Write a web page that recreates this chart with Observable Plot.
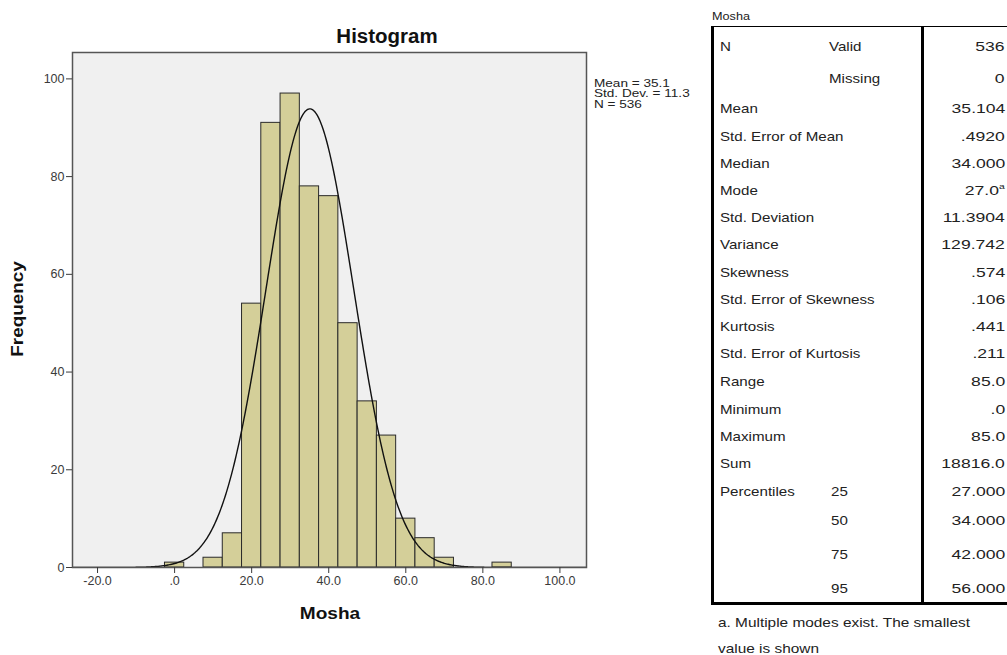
<!DOCTYPE html>
<html>
<head>
<meta charset="utf-8">
<script src="https://cdn.jsdelivr.net/npm/d3@7"></script>
<script src="https://cdn.jsdelivr.net/npm/@observablehq/plot@0.6"></script>
<style>
  html, body { margin:0; padding:0; background:#fff; }
  body { width:1007px; height:655px; overflow:hidden; position:relative; font-family:"Liberation Sans", Arial, sans-serif; }
  #chart { position:absolute; left:0; top:0; }
  .abs { position:absolute; white-space:nowrap; color:#111; }
  #title { left:387px; top:36px; transform:translate(-50%,-50%) scaleX(1.05); font-weight:bold; font-size:19.5px; }
  #xlab { left:330px; top:614px; transform:translate(-50%,-50%) scaleX(1.12); font-weight:bold; font-size:17px; }
  #ylab { left:18px; top:309px; transform:translate(-50%,-50%) rotate(-90deg) scaleX(1.18); font-weight:bold; font-size:16px; }
  #legend { left:594px; top:78px; font-size:11.5px; line-height:10.3px; color:#222; transform:scaleX(1.18); transform-origin:left top; }
  #table { position:absolute; left:711px; top:26px; width:320px; height:575px; border-left:3px solid #000; border-bottom:3px solid #000; border-top:1px solid #000; }
  #divider { position:absolute; left:921px; top:26px; width:3px; height:578px; background:#000; }
  .cell { position:absolute; font-size:13.5px; color:#222; white-space:nowrap; transform:translateY(-50%) scaleX(1.12); transform-origin:left center; }
  .val { right:2px; text-align:right; transform:translateY(-50%) scaleX(1.3); transform-origin:right center; }
  #tabtitle { left:712px; top:16px; font-size:11.5px; transform:translateY(-50%) scaleX(1.1); transform-origin:left center; color:#222; }
  .foot { left:718px; font-size:13.5px; color:#222; transform:translateY(-50%) scaleX(1.14); transform-origin:left center; }
</style>
</head>
<body>
<div id="chart"></div>
<div id="title" class="abs">Histogram</div>
<div id="xlab" class="abs">Mosha</div>
<div id="ylab" class="abs">Frequency</div>
<div id="legend" class="abs"></div>
<div id="tabtitle" class="abs">Mosha</div>
<div id="table"></div>
<div id="divider"></div>
<div id="cells"></div>
<div class="abs foot" style="top:622px">a. Multiple modes exist. The smallest</div>
<div class="abs foot" style="top:648px">value is shown</div>
<script>
// ---- Histogram data ----
const binWidth = 5;
const binCenters = [0, 5, 10, 15, 20, 25, 30, 35, 40, 45, 50, 55, 60, 65, 70, 75, 80, 85];
const counts     = [1, 0, 2, 7, 54, 91, 97, 78, 76, 50, 34, 27, 10, 6, 2, 0, 0, 1];
const xTicks = [-20, 0, 20, 40, 60, 80, 100];
const yTicks = [0, 20, 40, 60, 80, 100];
const meanValue = 35.104;
const sdValue = 11.3904;
const nValue = 536;
const legendLines = ["Mean = 35.1", "Std. Dev. = 11.3", "N = 536"];

// ---- Statistics table ----
const rowLabels = ["N", "", "Mean", "Std. Error of Mean", "Median", "Mode", "Std. Deviation", "Variance",
  "Skewness", "Std. Error of Skewness", "Kurtosis", "Std. Error of Kurtosis", "Range", "Minimum",
  "Maximum", "Sum", "Percentiles", "", "", ""];
const rowSubLabels = ["Valid", "Missing", "", "", "", "", "", "", "", "", "", "", "", "", "", "", "25", "50", "75", "95"];
const rowValues = ["536", "0", "35.104", ".4920", "34.000", "27.0<sup style='font-size:8px'>a</sup>", "11.3904", "129.742",
  ".574", ".106", ".441", ".211", "85.0", ".0", "85.0", "18816.0", "27.000", "34.000", "42.000", "56.000"];

// layout (not data)
const rowY = [46, 78, 108, 136, 163, 190, 217, 244, 272, 299, 326, 353, 381, 409, 436, 463, 491, 520, 554, 588];

const bars = binCenters
  .map((c, i) => ({x1: c - binWidth / 2, x2: c + binWidth / 2, count: counts[i]}))
  .filter(d => d.count > 0);

const xDomain = [-26.5, 106.9];
const normal = d3.range(xDomain[0], xDomain[1] + 0.01, 0.25).map(x => ({
  x,
  y: nValue * binWidth * Math.exp(-0.5 * ((x - meanValue) / sdValue) ** 2) / (sdValue * Math.sqrt(2 * Math.PI))
}));

const fmtX = d => d === 0 ? ".0" : d.toFixed(1);

const chart = Plot.plot({
  width: 700,
  height: 640,
  marginLeft: 72,
  marginRight: 114,
  marginTop: 52,
  marginBottom: 73,
  x: {domain: xDomain},
  y: {domain: [0, 105.4]},
  style: {fontFamily: "'Liberation Sans', Arial, sans-serif", fontSize: "12px", color: "#3a3a3a", background: "transparent", overflow: "visible"},
  marks: [
    Plot.frame({fill: "#F0F0F0", stroke: "none"}),
    Plot.rectY(bars, {x1: "x1", x2: "x2", y: "count", fill: "#D4CF99", stroke: "#2a2a2a", strokeWidth: 1, inset: 0}),
    Plot.line(normal, {x: "x", y: "y", stroke: "#111", strokeWidth: 1.4, clip: true}),
    Plot.frame({stroke: "#555", strokeWidth: 1.5}),
    Plot.axisX({ticks: xTicks, tickFormat: fmtX, tickSize: 6, tickPadding: 3, label: null, fontSize: 12.5}),
    Plot.axisY({ticks: yTicks, tickFormat: d => String(d), tickSize: 6, tickPadding: 2, label: null, fontSize: 12.5})
  ]
});
document.getElementById("chart").appendChild(chart);

document.getElementById("legend").innerHTML = legendLines.join("<br>");

const cells = document.getElementById("cells");
rowY.forEach((y, i) => {
  if (rowLabels[i]) {
    const d = document.createElement("div");
    d.className = "cell"; d.style.left = "720px"; d.style.top = y + "px";
    d.textContent = rowLabels[i]; cells.appendChild(d);
  }
  if (rowSubLabels[i]) {
    const d = document.createElement("div");
    d.className = "cell"; d.style.left = rowSubLabels[i].length > 2 ? "829px" : "831px"; d.style.top = y + "px";
    d.textContent = rowSubLabels[i]; cells.appendChild(d);
  }
  const v = document.createElement("div");
  v.className = "cell val"; v.style.top = y + "px";
  v.innerHTML = rowValues[i]; cells.appendChild(v);
});
</script>
</body>
</html>
